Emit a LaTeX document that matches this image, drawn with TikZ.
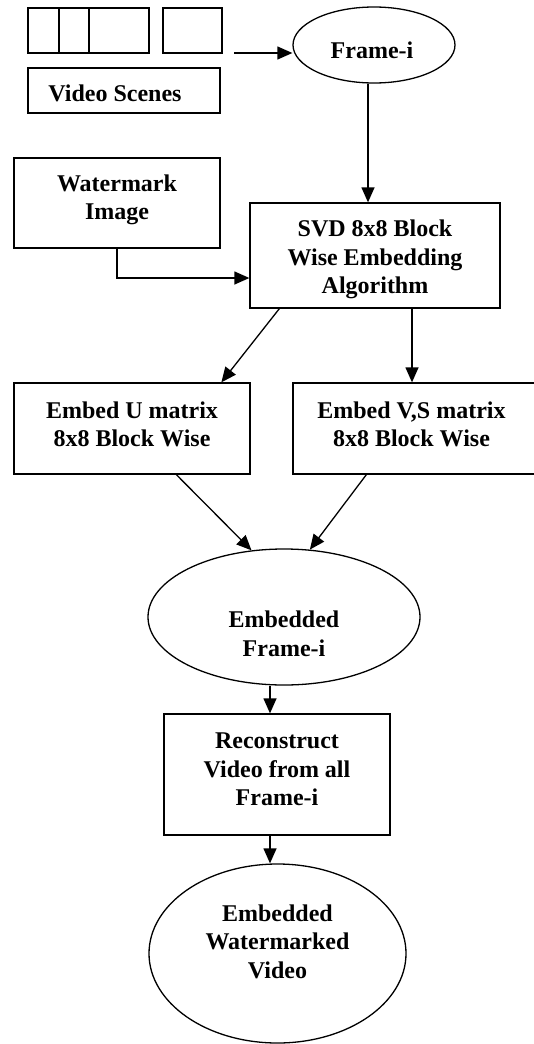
\documentclass[tikz,border=0pt]{standalone}
\usepackage{fontspec}
\setmainfont{Liberation Serif}
\usetikzlibrary{arrows.meta,shapes.geometric,calc}
\begin{document}
\begin{tikzpicture}[x=1pt,y=-1pt,
  every node/.style={font=\fontsize{24}{28.5}\selectfont\bfseries, align=center, inner sep=0pt},
  box/.style={draw, rectangle, line width=1.3pt},
  oval/.style={draw, ellipse, line width=1.3pt},
  arr/.style={line width=1.3pt, -{Triangle[length=15pt,width=13pt]}}]
\useasboundingbox (0,0) rectangle (534,1044);
% video frames
\node[box, minimum width=31pt, minimum height=45pt] (f1) at (43.5,30.5) {};
\node[box, minimum width=30pt, minimum height=45pt] (f2) at (74,30.5) {};
\node[box, minimum width=60pt, minimum height=45pt] (f3) at (119,30.5) {};
\node[box, minimum width=59pt, minimum height=45pt] (f4) at (192.5,30.5) {};
\node[box, minimum width=192pt, minimum height=45pt,
  label={[xshift=-9pt,yshift=-3pt]center:Video Scenes}] (vs) at (124,90.5) {};
\node[oval, minimum width=162pt, minimum height=76pt,
  label={[xshift=-2pt,yshift=-5pt]center:Frame-i}] (frame) at (374,45) {};
\node[box, minimum width=206pt, minimum height=90pt,
  label={[yshift=3pt]center:{Watermark\\Image}}] (wm) at (117,203) {};
\node[box, minimum width=250pt, minimum height=105pt,
  label={[yshift=-4pt]center:{SVD 8x8 Block\\Wise Embedding\\Algorithm}}] (svd) at (375,255.5) {};
\node[box, minimum width=236pt, minimum height=91pt,
  label={[yshift=4pt]center:{Embed U matrix\\8x8 Block Wise}}] (ub) at (132,428.5) {};
\node[box, minimum width=245pt, minimum height=91pt,
  label={[xshift=-4pt,yshift=4pt]center:{Embed V,S matrix\\8x8 Block Wise}}] (vsb) at (415.5,428.5) {};
\node[oval, minimum width=272pt, minimum height=136pt,
  label={[yshift=-17pt]center:{Embedded\\Frame-i}}] (emb) at (284,617) {};
\node[box, minimum width=226pt, minimum height=121pt,
  label={[yshift=5pt]center:{Reconstruct\\Video from all\\Frame-i}}] (rec) at (277,774.5) {};
\node[oval, minimum width=257pt, minimum height=179pt,
  label={[yshift=12pt]center:{Embedded\\Watermarked\\Video}}] (fin) at (277.5,953.5) {};
% connectors
\coordinate (vsout) at (234,53);
\draw[arr] (vsout) -- (vsout -| frame.west);
\coordinate (fx) at (368,0);
\draw[arr] (fx |- frame.south) -- (fx |- svd.north);
\coordinate (wmturn) at (117,278);
\draw[arr] (wm.south) -- (wmturn) -- (wmturn -| svd.west);
\draw[arr] ($(svd.south west)+(30,0)$) -- ($(ub.north west)+(208,0)$);
\coordinate (sx) at (412,0);
\draw[arr] (sx |- svd.south) -- (sx |- vsb.north);
\draw[arr] ($(ub.south west)+(163,0)$) -- (emb.116);
\draw[arr] ($(vsb.south west)+(74,0)$) -- (emb.69);
\coordinate (cx) at (270,0);
\draw[arr] (cx |- emb.south) -- (cx |- rec.north);
\draw[arr] (cx |- rec.south) -- (cx |- fin.north);
\end{tikzpicture}
\end{document}
